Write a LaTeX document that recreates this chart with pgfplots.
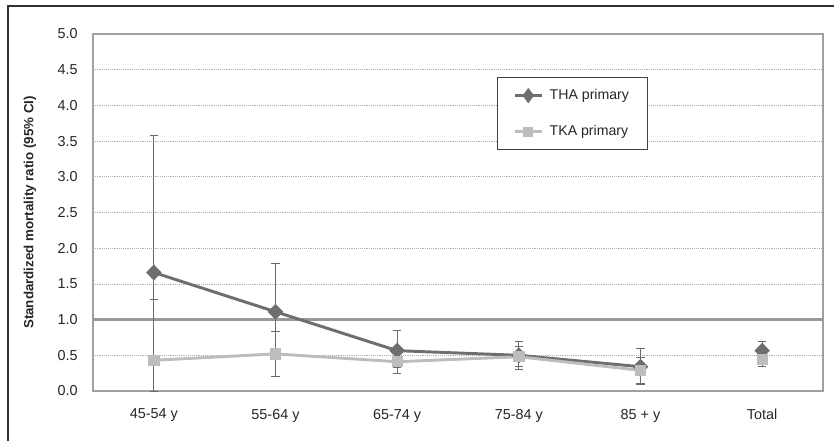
\documentclass[border=0pt]{standalone}
\usepackage{fontspec}
\setmainfont{Liberation Sans}
\usepackage{pgfplots}
\pgfplotsset{compat=1.18}
\usepackage{pgfplotstable}
\definecolor{tha}{HTML}{6E6E6E}
\definecolor{tka}{HTML}{BDBDBD}
\definecolor{errc}{HTML}{6A6A6A}
\definecolor{gridc}{HTML}{B0B0B0}
\definecolor{framec}{HTML}{A0A0A0}
\definecolor{refc}{HTML}{999999}
\pgfplotstableread{
x y ep em
0.5 1.66 1.92 1.66
1.5 1.11 0.67 0.55
2.5 0.565 0.28 0.235
3.5 0.50 0.20 0.15
4.5 0.34 0.25 0.23
}\tha
\pgfplotstableread{
x y ep em
5.5 0.565 0.135 0.115
}\thatot
\pgfplotstableread{
x y ep em
0.5 0.43 0.85 0.43
1.5 0.52 0.32 0.31
2.5 0.41 0.17 0.16
3.5 0.48 0.14 0.18
4.5 0.29 0.18 0.20
}\tka
\pgfplotstableread{
x y ep em
5.5 0.44 0.11 0.10
}\tkatot
\begin{document}
\begin{tikzpicture}[x=1pt,y=1pt]
\useasboundingbox (-69.75pt,-36.75pt) rectangle (555.75pt,293.25pt);
\draw[line width=1.5pt,color=black!80] (-63.75pt,-40pt) -- (-63.75pt,288.75pt) -- (560pt,288.75pt);
\begin{axis}[
  at={(0,0)}, anchor=south west,
  scale only axis, width=547.5pt, height=267.75pt,
  xmin=0, xmax=6, ymin=0, ymax=5,
  xtick={0.5,1.5,2.5,3.5,4.5,5.5},
  xticklabels={45-54 y,55-64 y,65-74 y,75-84 y,85 + y,Total},
  ytick={0,0.5,...,5},
  yticklabel style={/pgf/number format/fixed, /pgf/number format/fixed zerofill, /pgf/number format/precision=1, xshift=-8pt},
  /pgf/number format/assume math mode=true,
  major tick length=0pt,
  tick label style={font=\fontsize{10.8}{12}\selectfont, color=black!85},
  xticklabel style={yshift=-10pt},
  ymajorgrids, grid style={densely dotted, color=gridc, line width=0.6pt},
  axis line style={color=framec, line width=0.8pt},
  ylabel={Standardized mortality ratio (95\% CI)},
  every axis y label/.style={at={(rel axis cs:0,0.5)}, xshift=-47.25pt, rotate=90, anchor=center, font=\bfseries\fontsize{10}{12}\selectfont, color=black!85},
  legend style={at={(rel axis cs:0.5534,0.8796)}, anchor=north west, draw=black!75, line width=0.7pt, font=\fontsize{10.6}{12}\selectfont, inner xsep=12pt, inner ysep=7pt, row sep=14pt, legend cell align=left, text=black!85},
  legend image code/.code={\draw[mark repeat=2, mark phase=2, #1, mark options={scale=0.7}] plot coordinates {(0pt,0pt) (10pt,0pt) (20pt,0pt)}; \path (23pt,0pt);},
  clip=true,
]
\addplot[refc, line width=2.3pt, forget plot] coordinates {(0,1) (6,1)};
% THA
\addplot[color=tha, line width=2.2pt, mark=diamond*, mark size=5.6pt, mark options={xscale=1.3, fill=tha, draw=tha, line width=0.5pt},
  error bars/.cd, y dir=both, y explicit,
  error bar style={color=errc, line width=0.7pt},
  error mark options={rotate=90, color=errc, mark size=3.2pt, line width=0.7pt}]
  table[x=x, y=y, y error plus=ep, y error minus=em] {\tha};
\addlegendentry{THA primary}
% TKA
\addplot[color=tka, line width=2.2pt, mark=square*, mark size=3.8pt, mark options={fill=tka, draw=tka, line width=0.5pt},
  error bars/.cd, y dir=both, y explicit,
  error bar style={color=errc, line width=0.7pt},
  error mark options={rotate=90, color=errc, mark size=3.2pt, line width=0.7pt}]
  table[x=x, y=y, y error plus=ep, y error minus=em] {\tka};
\addlegendentry{TKA primary}
% Totals
\addplot[only marks, forget plot, mark=diamond*, mark size=5.6pt, mark options={xscale=1.3, fill=tha, draw=tha},
  error bars/.cd, y dir=both, y explicit,
  error bar style={color=errc, line width=0.7pt},
  error mark options={rotate=90, color=errc, mark size=3.2pt, line width=0.7pt}]
  table[x=x, y=y, y error plus=ep, y error minus=em] {\thatot};
\addplot[only marks, forget plot, mark=square*, mark size=3.8pt, mark options={fill=tka, draw=tka},
  error bars/.cd, y dir=both, y explicit,
  error bar style={color=errc, line width=0.7pt},
  error mark options={rotate=90, color=errc, mark size=3.2pt, line width=0.7pt}]
  table[x=x, y=y, y error plus=ep, y error minus=em] {\tkatot};
\end{axis}
\end{tikzpicture}
\end{document}
